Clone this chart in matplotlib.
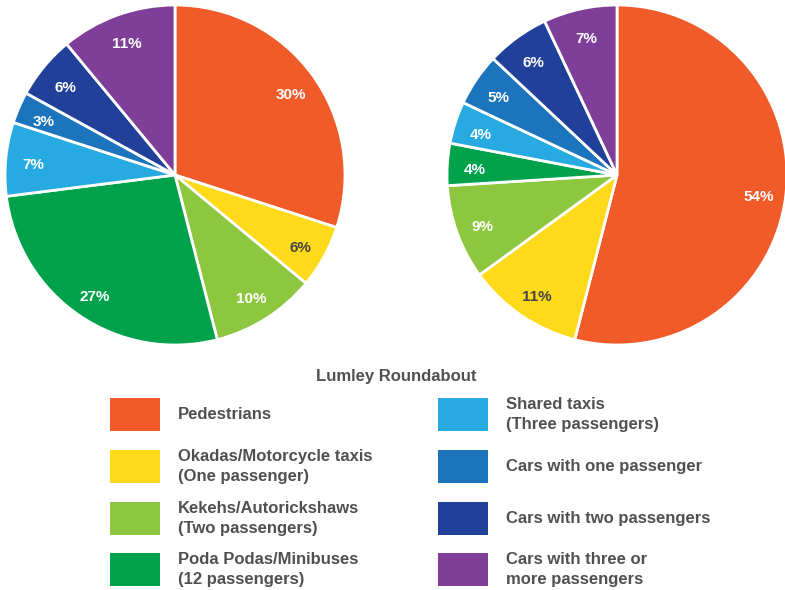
import matplotlib
matplotlib.use("Agg")
import matplotlib.pyplot as plt
from matplotlib.patches import Rectangle

plt.rcParams['font.family'] = ['Liberation Sans', 'DejaVu Sans']

categories = [
    "Pedestrians",
    "Okadas/Motorcycle taxis\n(One passenger)",
    "Kekehs/Autorickshaws\n(Two passengers)",
    "Poda Podas/Minibuses\n(12 passengers)",
    "Shared taxis\n(Three passengers)",
    "Cars with one passenger",
    "Cars with two passengers",
    "Cars with three or\nmore passengers",
]
vehicle_share = [30, 6, 10, 27, 7, 3, 6, 11]
people_share = [54, 11, 9, 4, 4, 5, 6, 7]
colors = ["#F15A29", "#FFDA1A", "#8DC63F", "#00A14B",
          "#27AAE1", "#1C75BC", "#21409A", "#7F3F98"]
legend_title = "Lumley Roundabout"

W, H = 785, 590
fig = plt.figure(figsize=(W / 100, H / 100), dpi=100)


def px_axes(x0, y0, w, h):
    return fig.add_axes([x0 / W, 1 - (y0 + h) / H, w / W, h / H])


def draw_pie(ax, values):
    wedges, texts, autotexts = ax.pie(
        values, colors=colors, startangle=90, counterclock=False,
        autopct=lambda p: f"{p:.0f}%", pctdistance=0.84,
        wedgeprops=dict(edgecolor="white", linewidth=2),
        textprops=dict(color="white", fontsize=11, fontweight="bold"),
        radius=1.0)
    autotexts[1].set_color("#444444")
    for t in autotexts:
        x, y = t.get_position()
        t.set_position((x, y - 0.022))
    ax.set_xlim(-1.0, 1.0)
    ax.set_ylim(-1.0, 1.0)
    ax.set_aspect("equal")
    ax.axis("off")


ax1 = px_axes(5, 5, 340, 340)
draw_pie(ax1, vehicle_share)
ax2 = px_axes(447, 5, 340, 340)
draw_pie(ax2, people_share)

# Legend drawn in pixel coordinates
lg = fig.add_axes([0, 0, 1, 1])
lg.set_xlim(0, W)
lg.set_ylim(H, 0)
lg.axis("off")
lg.text(396, 376, legend_title, ha="center", va="center",
        fontsize=12, fontweight="bold", color="#505050")
row_y = [414.5, 466.5, 518.5, 569.5]
col_x = [110, 438]
for i, (name, c) in enumerate(zip(categories, colors)):
    col, row = divmod(i, 4)
    x, y = col_x[col], row_y[row]
    lg.add_patch(Rectangle((x, y - 16.5), 50, 33, facecolor=c, edgecolor="none"))
    lg.text(x + 68, y, name, ha="left", va="center", fontsize=12,
            fontweight="bold", color="#505050", linespacing=1.35)

fig.savefig("out.png", dpi=100, facecolor="white")
